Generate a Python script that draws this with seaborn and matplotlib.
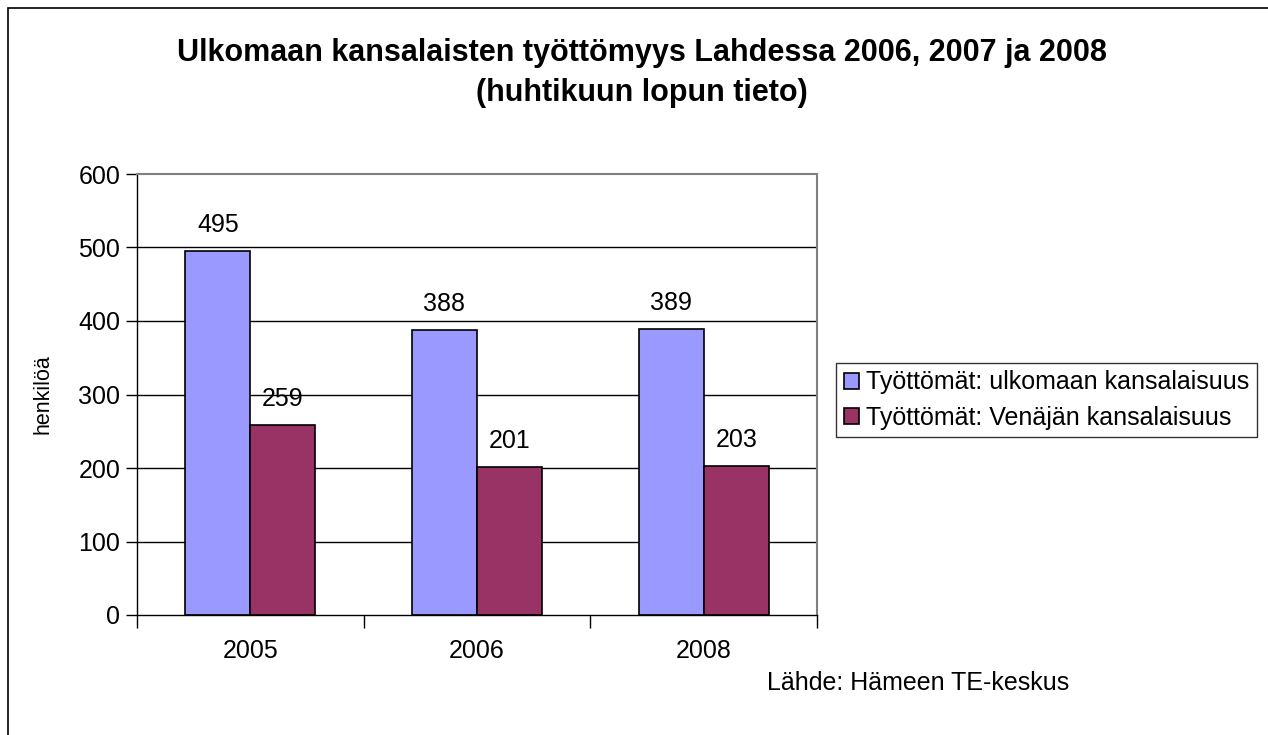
import matplotlib
matplotlib.use("Agg")
import matplotlib.pyplot as plt
import seaborn as sns
import pandas as pd
from matplotlib.patches import Rectangle

years = ["2005", "2006", "2008"]
series_names = ["Työttömät: ulkomaan kansalaisuus", "Työttömät: Venäjän kansalaisuus"]
foreign = [495, 388, 389]
russian = [259, 201, 203]
title = "Ulkomaan kansalaisten työttömyys Lahdessa 2006, 2007 ja 2008\n(huhtikuun lopun tieto)"
ylabel = "henkilöä"
source = "Lähde: Hämeen TE-keskus"
yticks = [0, 100, 200, 300, 400, 500, 600]

df = pd.DataFrame({
    "year": years * 2,
    "series": [series_names[0]] * 3 + [series_names[1]] * 3,
    "value": foreign + russian,
})

sns.set_style("white")
plt.rcParams["font.family"] = ["Liberation Sans", "DejaVu Sans"]
plt.rcParams["text.color"] = "black"
plt.rcParams["xtick.color"] = "black"
plt.rcParams["ytick.color"] = "black"
plt.rcParams["axes.labelcolor"] = "black"

FS = 18

fig = plt.figure(figsize=(12.68, 7.35), dpi=100)
ax = fig.add_axes([137/1268, 1-615/735, (817-137)/1268, (615-174)/735])

palette = ["#9999FF", "#993366"]
sns.barplot(data=df, x="year", y="value", hue="series", palette=palette,
            width=0.574, edgecolor="black", linewidth=1.2, saturation=1,
            ax=ax, legend=True)

ax.set_ylim(0, 600)
ax.set_xlim(-0.5, 2.5)
ax.set_yticks(yticks)
ax.set_yticklabels([str(v) for v in yticks], fontsize=FS)
for v in yticks[1:-1]:
    ax.axhline(v, color="black", linewidth=1, zorder=0)

ax.set_xticks([-0.5, 0.5, 1.5, 2.5])
ax.set_xticklabels([])
ax.set_xticks([0, 1, 2], minor=True)
ax.set_xticklabels(years, minor=True, fontsize=FS)
ax.tick_params(axis="x", which="major", length=9, direction="out", color="black", width=1, bottom=True)
ax.tick_params(axis="x", which="minor", length=0, pad=17)
ax.tick_params(axis="y", length=8, direction="out", color="black", width=1, left=True, pad=4)
ax.set_xlabel("")
ax.set_ylabel(ylabel, fontsize=15.5, labelpad=18)

for side in ["top", "right"]:
    ax.spines[side].set_color("#808080")
    ax.spines[side].set_linewidth(1.5)
for side in ["left", "bottom"]:
    ax.spines[side].set_color("black")
    ax.spines[side].set_linewidth(1)

for cont in ax.containers:
    ax.bar_label(cont, labels=[f"{int(v)}" for v in cont.datavalues], padding=10, fontsize=FS)

handles, labels = ax.get_legend_handles_labels()
leg = ax.legend(handles, labels, loc="center left", bbox_to_anchor=(836/1268, 1-400/735),
                bbox_transform=fig.transFigure, fontsize=FS, frameon=True, fancybox=False,
                edgecolor="black", handlelength=0.6, handleheight=0.6, handletextpad=0.3,
                borderpad=0.3, labelspacing=0.45, borderaxespad=0)
leg.get_frame().set_linewidth(1)

fig.text(0.506, 1-73/735, title, ha="center", va="center", fontsize=22, fontweight="bold", linespacing=1.45)
fig.text(767/1268, 1-683/735, source, ha="left", va="center", fontsize=FS)

fig.patches.append(Rectangle((8/1268, -0.01), 1.02, 1-8/735+0.01, transform=fig.transFigure,
                             fill=False, edgecolor="black", linewidth=1.2))

fig.savefig("out.png", dpi=100)
